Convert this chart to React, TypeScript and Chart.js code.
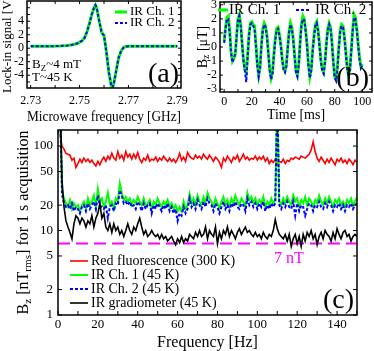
import { useEffect, useRef } from "react";
import { Chart, registerables } from "chart.js";
Chart.register(...registerables);

const SERIF = '"Liberation Serif", "Times New Roman", Times, serif';
const W = 374;
const H = 351;

// ---------- Panel (a): lock-in signal vs microwave frequency ----------
const freqA = [2.73, 2.734, 2.738, 2.742, 2.745, 2.747, 2.749, 2.75, 2.751, 2.752, 2.753, 2.754, 2.755, 2.756, 2.7565, 2.757, 2.758, 2.759, 2.7595, 2.76, 2.761, 2.762, 2.763, 2.7635, 2.764, 2.765, 2.766, 2.767, 2.768, 2.769, 2.77, 2.772, 2.775, 2.78, 2.785, 2.79];
const lockInCh1 = [0.3, 0.3, 0.3, 0.32, 0.4, 0.5, 0.7, 0.9, 1.1, 1.5, 2.4, 3.6, 5.0, 6.1, 6.4, 6.0, 4.1, 2.4, 2.1, 1.9, -0.6, -3.6, -5.6, -5.8, -5.3, -3.3, -1.4, -0.4, 0.1, 0.25, 0.3, 0.3, 0.3, 0.3, 0.3, 0.3];
const lockInCh2 = [0.3, 0.3, 0.3, 0.32, 0.4, 0.5, 0.7, 0.9, 1.1, 1.5, 2.4, 3.6, 5.0, 6.1, 6.4, 6.0, 4.1, 2.4, 2.1, 1.9, -0.6, -3.6, -5.6, -5.8, -5.3, -3.3, -1.4, -0.4, 0.1, 0.25, 0.3, 0.3, 0.3, 0.3, 0.3, 0.3];
const xTicksA = [2.73, 2.75, 2.77, 2.79];
const yTicksA = [-4, -2, 0, 2, 4];
const legendA = ["IR Ch. 1", "IR Ch. 2"];

// ---------- Panel (b): Bz vs time ----------
const timeStartB = 0;
const timeStepB = 1;
const bzCh1 = [0.4, 1.4, 2.1, 2.2, 1.2, -0.3, -1.0, -0.8, -0.6, 0.8, 2.0, 2.3, 1.6, 0.3, -0.9, -1.6, -1.8, -0.6, 0.9, 1.7, 1.8, 1.6, 1.5, 0.2, -1.2, -2.0, -1.4, 0.2, 1.3, 1.7, 1.5, 0.8, -0.4, -1.6, -2.2, -1.8, -0.5, 0.6, 1.3, 1.4, 0.9, 0.2, -0.8, -1.5, -1.7, -1.3, 0.0, 1.1, 1.7, 1.4, 0.6, -0.6, -1.7, -2.0, -1.2, 0.4, 1.7, 2.2, 2.0, 1.2, 0.2, -1.2, -2.1, -1.6, -0.3, 0.8, 1.6, 1.8, 1.2, 0.2, -0.9, -1.6, -1.8, -1.0, 0.3, 1.3, 1.7, 1.4, 0.4, -1.0, -2.1, -2.3, -1.4, 0.0, 1.2, 1.6, 1.5, 0.8, -0.3, -1.4, -2.0, -1.6, -0.2, 1.2, 2.3, 2.1, 1.3, 0.2, -0.8, -1.4, -1.2];
const bzCh2 = [0.3, 1.3, 2.0, 2.0, 1.0, -0.4, -1.1, -0.8, -0.5, 0.7, 1.9, 2.2, 1.5, 0.2, -1.0, -1.7, -2.5, -0.7, 0.8, 1.6, 1.7, 1.5, 1.3, 0.1, -1.3, -2.1, -1.5, 0.1, 1.2, 1.6, 1.4, 0.7, -0.5, -1.7, -2.3, -1.9, -0.6, 0.5, 1.2, 1.3, 0.8, 0.1, -0.9, -1.6, -1.8, -1.4, -0.1, 1.0, 1.6, 1.3, 0.5, -0.7, -1.8, -2.1, -1.3, 0.3, 1.6, 2.0, 1.9, 1.1, 0.1, -1.3, -2.2, -1.7, -0.4, 0.7, 1.5, 1.7, 1.1, 0.1, -1.0, -1.7, -1.9, -1.1, 0.2, 1.2, 1.6, 1.3, 0.3, -1.1, -2.2, -2.4, -1.5, -0.1, 1.1, 1.5, 1.4, 0.7, -0.4, -1.5, -2.1, -1.7, -0.3, 1.1, 2.1, 2.0, 1.2, 0.1, -0.9, -1.5, -1.3];
const xTicksB = [0, 20, 40, 60, 80, 100];
const yTicksB = [-3, -2, -1, 0, 1, 2, 3];
const legendB = ["IR Ch. 1", "IR Ch. 2"];

// ---------- Panel (c): noise spectra ----------
const freqStartC = 1;
const freqStepC = 1;
const noiseRed = [140, 100, 92, 82, 80, 78, 68, 72, 56, 62, 70, 64, 72, 66, 70, 64, 68, 62, 58, 66, 60, 68, 74, 66, 76, 70, 82, 72, 68, 86, 72, 78, 68, 86, 74, 80, 70, 80, 72, 84, 70, 64, 72, 68, 78, 66, 70, 68, 74, 66, 72, 68, 76, 70, 66, 72, 66, 70, 64, 70, 82, 68, 74, 66, 84, 76, 72, 70, 78, 72, 76, 70, 80, 74, 70, 78, 72, 66, 74, 70, 64, 56, 72, 66, 76, 70, 64, 74, 70, 78, 66, 72, 80, 70, 74, 68, 72, 70, 76, 68, 74, 70, 76, 66, 72, 62, 68, 64, 70, 60, 66, 64, 70, 62, 68, 66, 72, 70, 74, 72, 70, 76, 74, 72, 76, 80, 90, 112, 86, 72, 66, 74, 68, 62, 70, 64, 72, 66, 60, 70, 66, 72, 64, 68, 62, 70, 66, 60, 68, 64];
const noiseCh1 = [400, 30, 24, 21, 19, 23, 18, 21, 19, 20, 17, 20, 22, 18, 24, 20, 22, 26, 19, 31, 22, 24, 19, 22, 28, 20, 22, 18, 24, 22, 36, 28, 23, 25, 22, 24, 20, 23, 21, 25, 22, 20, 24, 19, 21, 23, 18, 22, 20, 24, 21, 19, 22, 20, 23, 19, 21, 18, 20, 17, 19, 17, 22, 18, 20, 27, 21, 24, 20, 26, 22, 20, 25, 21, 28, 24, 22, 19, 24, 21, 18, 22, 25, 20, 23, 19, 24, 21, 26, 22, 20, 24, 22, 19, 28, 23, 25, 21, 24, 20, 23, 21, 25, 19, 22, 20, 24, 21, 23, 400, 22, 20, 24, 21, 25, 22, 20, 26, 22, 24, 19, 23, 21, 25, 20, 24, 22, 19, 23, 21, 26, 22, 20, 24, 21, 25, 22, 19, 23, 21, 24, 20, 22, 19, 23, 21, 24, 20, 22, 25];
const noiseCh2 = [400, 27, 21, 19, 20, 18, 21, 17, 19, 18, 16, 19, 20, 17, 21, 18, 20, 22, 18, 26, 20, 19, 18, 20, 14, 19, 20, 17, 21, 20, 30, 26, 21, 22, 20, 22, 19, 20, 18, 22, 20, 17, 21, 18, 20, 21, 16, 20, 18, 21, 19, 17, 20, 18, 21, 17, 19, 16, 18, 13, 16, 15, 19, 16, 18, 24, 19, 21, 18, 23, 20, 18, 22, 19, 24, 21, 20, 17, 21, 19, 16, 19, 22, 18, 20, 17, 21, 19, 22, 19, 18, 21, 20, 17, 24, 20, 22, 19, 21, 18, 21, 19, 22, 17, 20, 18, 21, 19, 21, 400, 20, 18, 21, 19, 22, 19, 18, 22, 15, 21, 17, 20, 19, 15, 18, 21, 20, 17, 20, 19, 22, 19, 18, 21, 19, 22, 20, 17, 20, 19, 21, 18, 20, 17, 20, 19, 21, 18, 20, 21];
const noiseGrad = [400, 40, 19, 13, 11, 9.5, 8, 12, 15, 14, 12, 14, 13, 11, 13, 12, 15, 11, 14, 16, 21, 14, 16, 11, 10, 12, 9.5, 12, 10, 11, 9, 10, 8.5, 10, 12, 10, 9, 11, 10, 12, 14, 11, 9, 10, 8.5, 9, 10, 9, 8.5, 9, 8, 9, 8, 8.5, 7.5, 8, 8.5, 7.5, 6.8, 8, 7.2, 8.5, 7.2, 8, 7.5, 9, 8.5, 8, 9.5, 8.5, 10, 8.5, 9, 11, 8, 10, 9, 8.5, 11, 7, 9.5, 8, 10, 9, 11, 8.5, 10, 9, 8, 9.5, 10.5, 9, 10, 11, 9.5, 10, 9, 8.5, 9.5, 8.5, 9, 8, 9.5, 8.5, 8, 9, 8.5, 10, 13.5, 10.5, 9, 8.5, 8, 9, 7.5, 9, 6.5, 8, 9, 7, 8.5, 6.5, 9, 7.5, 9.5, 8.5, 10, 8, 9, 6.8, 8.5, 9.5, 8, 10, 9, 8.5, 7.5, 9.5, 8, 10.5, 9, 8, 9.5, 10, 8.5, 9, 7.5, 8.5, 9, 8.5];
const limitLevelC = 7;
const limitLabelC = "7 nT";
const xTicksC = [0, 20, 40, 60, 80, 100, 120, 140];
const xMarksC = [10, 30, 50, 70, 90, 110, 130, 150];
const yTicksC = [1, 2, 5, 10, 20, 50, 100];
const legendC = ["Red fluorescence (300 K)", "IR Ch. 1 (45 K)", "IR Ch. 2 (45 K)", "IR gradiometer (45 K)"];

// ---------- helpers ----------
type Seg = { t: string; sub?: boolean };

function drawRich(ctx: CanvasRenderingContext2D, segs: Seg[], x: number, y: number, size: number, color: string, align: "left" | "center", rotated = false) {
  ctx.save();
  ctx.translate(x, y);
  if (rotated) ctx.rotate(-Math.PI / 2);
  let total = 0;
  for (const s of segs) {
    ctx.font = `${s.sub ? size * 0.7 : size}px ${SERIF}`;
    total += ctx.measureText(s.t).width;
  }
  let cx = align === "center" ? -total / 2 : 0;
  ctx.fillStyle = color;
  ctx.textBaseline = "middle";
  ctx.textAlign = "left";
  for (const s of segs) {
    const fs = s.sub ? size * 0.7 : size;
    ctx.font = `${fs}px ${SERIF}`;
    ctx.fillText(s.t, cx, s.sub ? size * 0.28 : 0);
    cx += ctx.measureText(s.t).width;
  }
  ctx.restore();
}

function drawText(ctx: CanvasRenderingContext2D, t: string, x: number, y: number, size: number, color = "#000", align: CanvasTextAlign = "left") {
  ctx.save();
  ctx.font = `${size}px ${SERIF}`;
  ctx.fillStyle = color;
  ctx.textAlign = align;
  ctx.textBaseline = "middle";
  ctx.fillText(t, x, y);
  ctx.restore();
}

function legendLine(ctx: CanvasRenderingContext2D, x1: number, x2: number, y: number, color: string, width: number, dash: number[]) {
  ctx.save();
  ctx.strokeStyle = color;
  ctx.lineWidth = width;
  ctx.setLineDash(dash);
  ctx.beginPath();
  ctx.moveTo(x1, y);
  ctx.lineTo(x2, y);
  ctx.stroke();
  ctx.restore();
}

function frame(chart: any, xMarks: number[], yMarks: number[], len = 4) {
  const { ctx, chartArea: a, scales } = chart;
  ctx.save();
  ctx.strokeStyle = "#000";
  ctx.lineWidth = 1;
  ctx.beginPath();
  for (const v of xMarks) {
    const px = scales.x.getPixelForValue(v);
    if (px < a.left - 0.5 || px > a.right + 0.5) continue;
    ctx.moveTo(px, a.bottom);
    ctx.lineTo(px, a.bottom - len);
    ctx.moveTo(px, a.top);
    ctx.lineTo(px, a.top + len);
  }
  for (const v of yMarks) {
    const py = scales.y.getPixelForValue(v);
    if (py < a.top - 0.5 || py > a.bottom + 0.5) continue;
    ctx.moveTo(a.left, py);
    ctx.lineTo(a.left + len, py);
    ctx.moveTo(a.right, py);
    ctx.lineTo(a.right - len, py);
  }
  ctx.stroke();
  ctx.lineWidth = 1.5;
  ctx.strokeRect(a.left, a.top, a.right - a.left, a.bottom - a.top);
  ctx.restore();
}

function base(padding: any) {
  return {
    responsive: false,
    animation: false as const,
    devicePixelRatio: 1,
    events: [] as any[],
    layout: { padding },
    plugins: { legend: { display: false }, tooltip: { enabled: false }, title: { display: false } },
    elements: { point: { radius: 0 }, line: { tension: 0, fill: false } },
  };
}

function axis(type: string, min: number, max: number, tickVals: number[], fmt: (v: number) => string, size: number, pad: number, fit: (s: any) => void, title?: { text: string; size: number; pad: any }) {
  return {
    type,
    min,
    max,
    afterBuildTicks: (s: any) => {
      s.ticks = tickVals.map((v) => ({ value: v }));
    },
    ticks: { callback: (v: any) => fmt(Number(v)), font: { family: SERIF, size }, color: "#000", padding: pad, maxRotation: 0, autoSkip: false },
    grid: { display: false, drawTicks: false },
    border: { display: false },
    title: title
      ? { display: true, text: title.text, font: { family: SERIF, size: title.size, lineHeight: 1 }, color: "#000", padding: title.pad }
      : { display: false },
    afterFit: (s: any) => {
      fit(s);
      s.paddingTop = 0;
      s.paddingBottom = 0;
      s.paddingLeft = 0;
      s.paddingRight = 0;
    },
  };
}

function pts(xs: number[], ys: number[]) {
  return xs.map((x, i) => ({ x, y: ys[i] }));
}

// ---------- chart configs ----------
function configA(): any {
  return {
    type: "line",
    data: {
      datasets: [
        { data: pts(freqA, lockInCh2), borderColor: "#0000ff", borderWidth: 2, borderDash: [3, 2], order: 1 },
        { data: pts(freqA, lockInCh1), borderColor: "#00ff00", borderWidth: 3, order: 2 },
      ],
    },
    options: {
      ...base({ left: 0, top: 1, right: W - 181, bottom: H - 124 }),
      scales: {
        x: axis("linear", 2.7285, 2.7915, xTicksA, (v) => v.toFixed(2), 12, 6, (s) => { s.height = 36; }, { text: "Microwave frequency [GHz]", size: 14, pad: 0 }),
        y: axis("linear", -5.9, 7.0, yTicksA, (v) => String(v), 12, 3, (s) => { s.width = 27; }, { text: "Lock-in signal [V]", size: 13, pad: { top: 1.5, bottom: 0 } }),
      },
    },
    plugins: [
      {
        id: "decorA",
        afterDraw(chart: any) {
          const { ctx, chartArea: a } = chart;
          frame(chart, [2.73, 2.74, 2.75, 2.76, 2.77, 2.78, 2.79], [-5, -4, -3, -2, -1, 0, 1, 2, 3, 4, 5, 6], 3);
          legendLine(ctx, a.left + 88, a.left + 100, a.top + 11, "#00ff00", 3, []);
          drawText(ctx, legendA[0], a.left + 103, a.top + 11, 13);
          legendLine(ctx, a.left + 88, a.left + 100, a.top + 22, "#0000ff", 2, [3, 2]);
          drawText(ctx, legendA[1], a.left + 103, a.top + 22, 13);
          drawRich(ctx, [{ t: "B" }, { t: "Z", sub: true }, { t: "~4 mT" }], a.left + 5, a.top + 64, 13, "#000", "left");
          drawRich(ctx, [{ t: "T~45 K" }], a.left + 5, a.top + 77, 13, "#000", "left");
          drawText(ctx, "(a)", a.right - 2, a.bottom - 13, 28, "#000", "right");
        },
      },
    ],
  };
}

function configB(): any {
  const tB = bzCh1.map((_, i) => timeStartB + i * timeStepB);
  return {
    type: "line",
    data: {
      datasets: [
        { data: pts(tB, bzCh2), borderColor: "#0000ff", borderWidth: 2, borderDash: [3, 2], order: 1 },
        { data: pts(tB, bzCh1), borderColor: "#00ff00", borderWidth: 3, order: 2 },
      ],
    },
    options: {
      ...base({ left: 200, top: 2, right: W - 372, bottom: H - 122 }),
      scales: {
        x: axis("linear", -3, 107, xTicksB, (v) => String(v), 12, 3, (s) => { s.height = 30; }, { text: "Time [ms]", size: 14, pad: 0 }),
        y: axis("linear", -3.2, 3.2, yTicksB, (v) => String(v), 12, 3, (s) => { s.width = 20; }),
      },
    },
    plugins: [
      {
        id: "decorB",
        afterDraw(chart: any) {
          const { ctx, chartArea: a } = chart;
          frame(chart, [0, 10, 20, 30, 40, 50, 60, 70, 80, 90, 100], yTicksB, 3);
          legendLine(ctx, a.left - 2, a.left + 8, a.top + 8, "#00ff00", 3, []);
          drawText(ctx, legendB[0], a.left + 9, a.top + 8, 15);
          legendLine(ctx, a.left + 76, a.left + 91, a.top + 8, "#0000ff", 2, [3, 2]);
          drawText(ctx, legendB[1], a.left + 95, a.top + 8, 15);
          drawRich(ctx, [{ t: "B" }, { t: "z", sub: true }, { t: " [μT]" }], 203, (a.top + a.bottom) / 2, 14, "#000", "center", true);
          drawText(ctx, "(b)", a.right - 3, a.bottom - 13, 28, "#000", "right");
        },
      },
    ],
  };
}

function configC(): any {
  const fC = noiseRed.map((_, i) => freqStartC + i * freqStepC);
  return {
    type: "line",
    data: {
      datasets: [
        { data: pts(fC, noiseGrad), borderColor: "#000000", borderWidth: 1.6, order: 0 },
        { data: pts(fC, noiseCh2), borderColor: "#0000ff", borderWidth: 2, borderDash: [3, 2], order: 1 },
        { data: pts(fC, noiseCh1), borderColor: "#00ff00", borderWidth: 2, order: 2 },
        { data: pts(fC, noiseRed), borderColor: "#ff0000", borderWidth: 1.6, order: 3 },
        { data: [{ x: 0, y: limitLevelC }, { x: 150, y: limitLevelC }], borderColor: "#ff00ff", borderWidth: 2, borderDash: [12, 6], order: 4 },
      ],
    },
    options: {
      ...base({ left: 0, top: 130, right: W - 357, bottom: 0 }),
      scales: {
        x: axis("linear", 0, 150, xTicksC, (v) => String(v), 13, 2, (s) => { s.height = 36; }, { text: "Frequency [Hz]", size: 16, pad: 0 }),
        y: axis("logarithmic", 1, 155, yTicksC, (v) => String(v), 13, 5, (s) => { s.width = 58; }),
      },
    },
    plugins: [
      {
        id: "decorC",
        afterDraw(chart: any) {
          const { ctx, chartArea: a } = chart;
          frame(chart, [...xTicksC, ...xMarksC], yTicksC, 4);
          const colors = ["#ff0000", "#00ff00", "#0000ff", "#000000"];
          const dashes = [[], [], [3, 2], []];
          const widths = [1.6, 2, 2, 1.6];
          legendC.forEach((label, i) => {
            const y = a.top + 131 + i * 14;
            legendLine(ctx, a.left + 12, a.left + 30, y, colors[i], widths[i], dashes[i]);
            drawText(ctx, label, a.left + 33, y, 14);
          });
          const yLim = chart.scales.y.getPixelForValue(limitLevelC);
          drawText(ctx, limitLabelC, 289, yLim + 15, 16, "#ff00ff", "center");
          drawRich(ctx, [{ t: "B" }, { t: "z", sub: true }, { t: " [nT" }, { t: "rms", sub: true }, { t: "] for 1 s acquisition" }], 24, (a.top + a.bottom) / 2, 16, "#000", "center", true);
          drawText(ctx, "(c)", a.right - 3, a.bottom - 14, 28, "#000", "right");
        },
      },
    ],
  };
}

export default function App() {
  const ra = useRef<HTMLCanvasElement>(null);
  const rb = useRef<HTMLCanvasElement>(null);
  const rc = useRef<HTMLCanvasElement>(null);
  useEffect(() => {
    const charts = [new Chart(ra.current!, configA()), new Chart(rb.current!, configB()), new Chart(rc.current!, configC())];
    return () => charts.forEach((c) => c.destroy());
  }, []);
  const st: any = { position: "absolute", left: 0, top: 0, width: W, height: H };
  return (
    <div style={{ position: "absolute", left: 0, top: 0, width: W, height: H, background: "#fff", overflow: "hidden" }}>
      <canvas ref={ra} width={W} height={H} style={st} />
      <canvas ref={rb} width={W} height={H} style={st} />
      <canvas ref={rc} width={W} height={H} style={st} />
    </div>
  );
}
